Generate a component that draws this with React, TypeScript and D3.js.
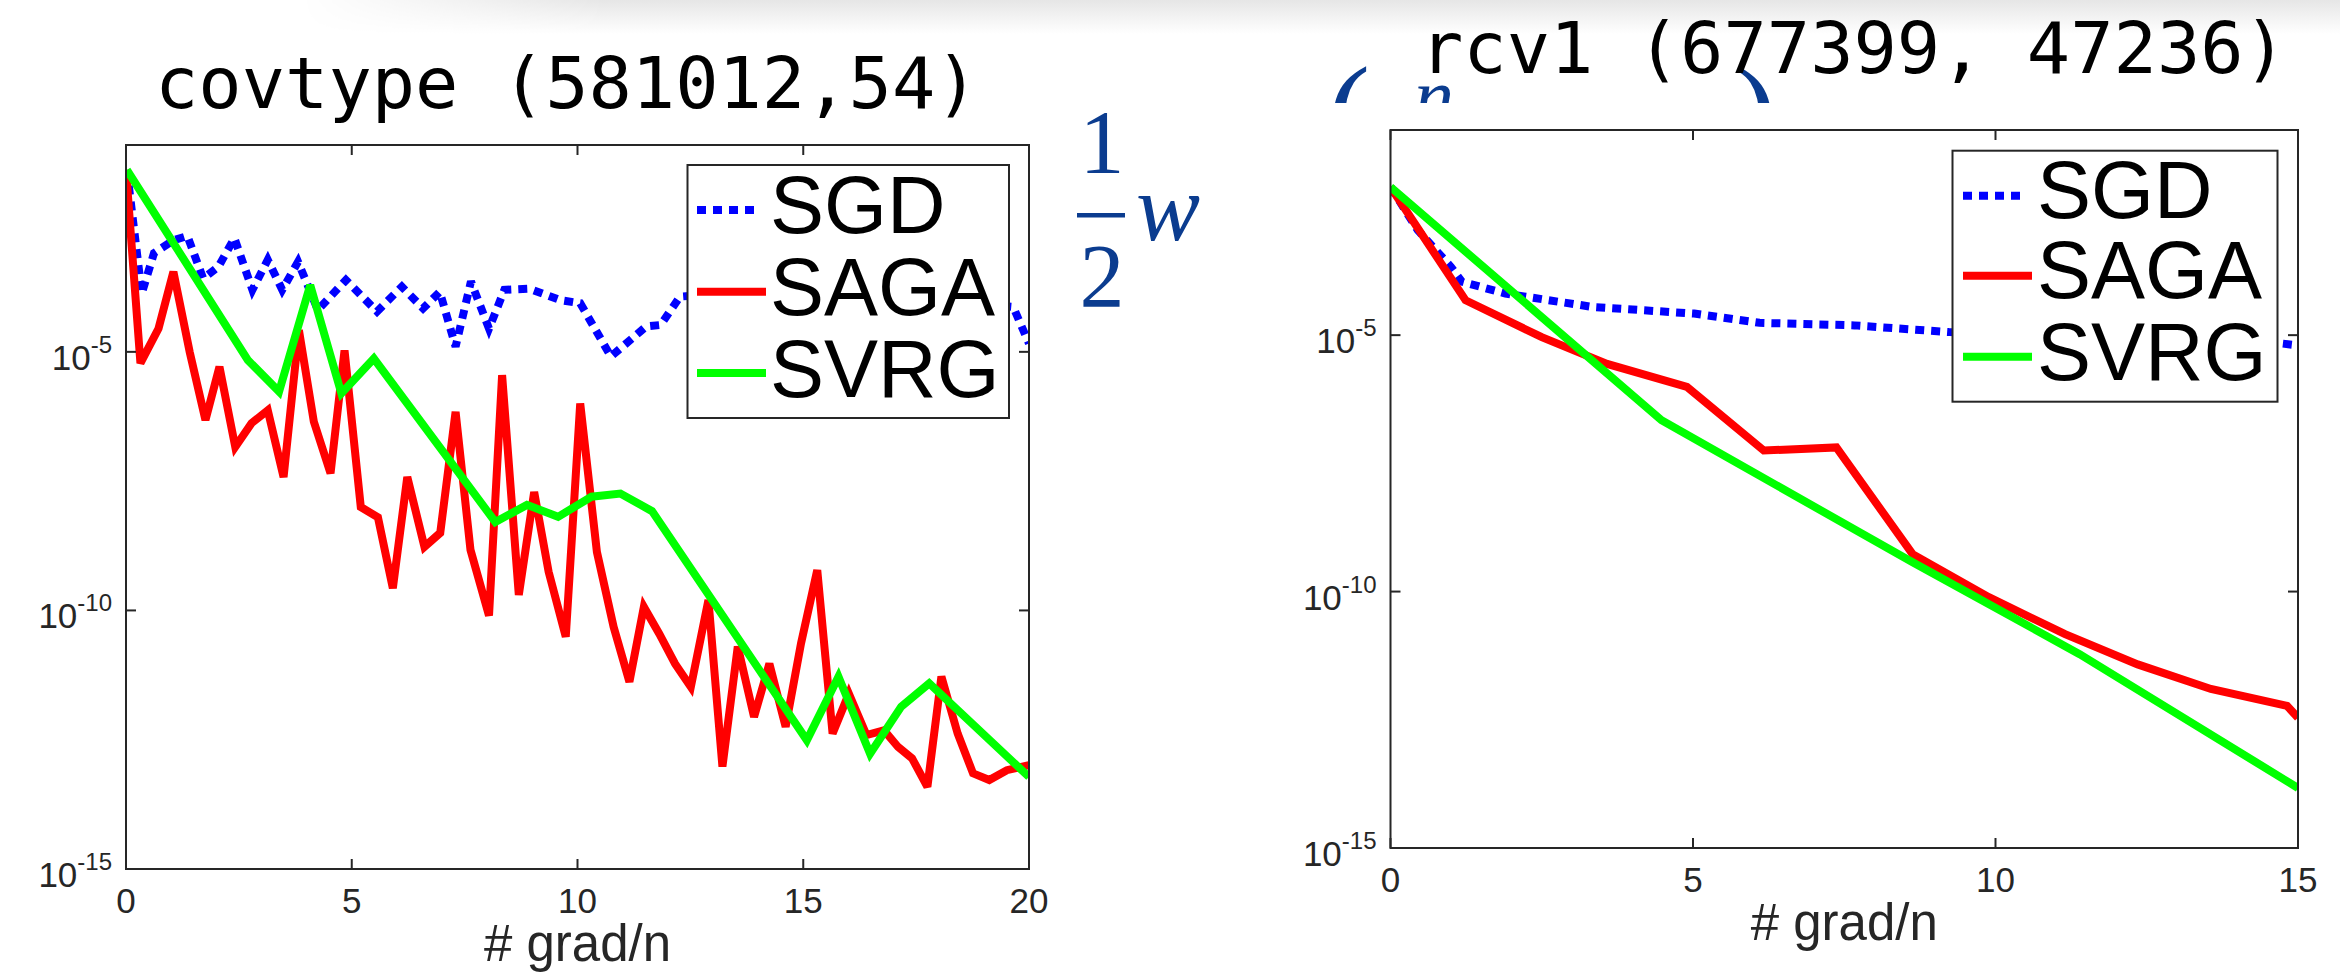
import React from "react";
import * as d3 from "d3";

// ---------- data ----------
const covtypeTitle = "covtype (581012,54)";
const rcv1Title = "rcv1 (677399, 47236)";
const seriesNames = ["SGD", "SAGA", "SVRG"];
const xLabelText = "# grad/n";
const covXTicks = [0, 5, 10, 15, 20];
const rcvXTicks = [0, 5, 10, 15];
const yTickValues = [1e-15, 1e-10, 1e-5];
const yDomain = [1e-15, 1e-1];
const covXDomain = [0, 20];
const rcvXDomain = [0, 15];

// covtype
const covSgdX = [0.02, 0.35, 0.62, 1.06, 1.36, 1.71, 2.05, 2.4, 2.8, 3.14, 3.46, 3.81, 4.25, 4.87, 5.56, 6.11, 6.58, 6.95, 7.3, 7.64, 8.04, 8.38, 8.93, 9.62, 10.06, 10.74, 11.52, 11.84, 12.27, 13.5, 15.0, 16.5, 18.0, 19.65, 20.0];
const covSgdY = [3.3e-2, 1.35e-4, 8.13e-4, 1.45e-3, 1.74e-3, 2.63e-4, 4.47e-4, 1.58e-3, 1.58e-4, 6.03e-4, 1.58e-4, 5.5e-4, 6.46e-5, 2.45e-4, 6.03e-5, 1.82e-4, 6.92e-5, 1.45e-4, 1.26e-5, 2.29e-4, 2.82e-5, 1.58e-4, 1.66e-4, 1.0e-4, 8.71e-5, 8.13e-6, 3.09e-5, 3.31e-5, 1.17e-4, 1.41e-4, 1.12e-4, 1.26e-4, 1.0e-4, 7.41e-5, 1.45e-5];

const covSagaX = [0.0, 0.32, 0.72, 1.05, 1.41, 1.76, 2.07, 2.42, 2.78, 3.14, 3.49, 3.83, 4.16, 4.53, 4.84, 5.2, 5.58, 5.91, 6.23, 6.61, 6.96, 7.3, 7.63, 8.04, 8.33, 8.7, 9.04, 9.36, 9.74, 10.06, 10.43, 10.8, 11.15, 11.47, 11.81, 12.16, 12.51, 12.9, 13.21, 13.55, 13.91, 14.25, 14.61, 14.95, 15.31, 15.65, 16.01, 16.4, 16.79, 17.1, 17.41, 17.75, 18.06, 18.42, 18.76, 19.12, 19.51, 20.0];
const covSagaY = [3.3e-2, 6.03e-6, 2.82e-5, 3.55e-4, 1.0e-5, 4.79e-7, 5.13e-6, 1.45e-7, 4.17e-7, 7.41e-7, 3.8e-8, 2.63e-5, 4.47e-7, 4.47e-8, 1.07e-5, 1.0e-8, 6.31e-9, 2.69e-10, 3.8e-8, 1.7e-9, 3.16e-9, 6.92e-7, 1.48e-9, 7.94e-11, 3.55e-6, 2.0e-10, 1.95e-8, 5.62e-10, 3.09e-11, 1.0e-6, 1.35e-9, 4.79e-11, 4.17e-12, 1.17e-10, 3.55e-11, 9.33e-12, 3.31e-12, 1.58e-10, 9.55e-14, 2.0e-11, 8.71e-13, 9.33e-12, 5.62e-13, 2.29e-11, 6.03e-10, 4.17e-13, 2.45e-12, 3.89e-13, 4.79e-13, 2.29e-13, 1.38e-13, 3.89e-14, 5.25e-12, 4.17e-13, 7.08e-14, 5.25e-14, 8.13e-14, 1.02e-13];

const covSvrgX = [0.02, 2.7, 3.39, 4.08, 4.77, 5.49, 8.18, 8.88, 9.57, 10.31, 10.95, 11.65, 15.08, 15.78, 16.48, 17.17, 17.79, 20.0];
const covSvrgY = [3.3e-2, 6.92e-6, 1.7e-6, 1.95e-4, 1.58e-6, 7.41e-6, 5.13e-9, 1.1e-8, 6.46e-9, 1.58e-8, 1.82e-8, 8.32e-9, 3.09e-13, 5.25e-12, 1.7e-13, 1.38e-12, 3.89e-12, 6.03e-14];

// rcv1
const rcvSgdX = [0, 0.45, 1.0, 1.18, 1.9, 3.34, 5.02, 6.1, 7.67, 9.23, 10.8, 12.3, 13.8, 14.64, 15.0];
const rcvSgdY = [7.76e-3, 1.12e-3, 2.14e-4, 1.1e-4, 6.46e-5, 3.55e-5, 2.63e-5, 1.74e-5, 1.55e-5, 1.15e-5, 1.0e-5, 8.91e-6, 7.94e-6, 7.08e-6, 6.31e-6];

const rcvSagaX = [0, 1.24, 2.5, 3.58, 4.9, 6.17, 7.37, 8.63, 9.89, 11.15, 12.35, 13.56, 14.82, 15.0];
const rcvSagaY = [7.76e-3, 4.79e-5, 9.12e-6, 2.75e-6, 9.77e-7, 5.62e-8, 6.46e-8, 5.37e-10, 7.76e-11, 1.48e-11, 3.8e-12, 1.26e-12, 5.89e-13, 3.47e-13];

const rcvSvrgX = [0, 4.48, 8.63, 11.39, 15.0];
const rcvSvrgY = [7.76e-3, 2.19e-7, 3.72e-10, 6.03e-12, 1.48e-14];

// ---------- layout & style ----------
const W = 2340;
const H = 974;
const AXIS_COLOR = "#262626";
const SANS = "'Liberation Sans', Arial, Helvetica, sans-serif";
const MONO = "'DejaVu Sans Mono', monospace";
const SERIF = "'Liberation Serif', 'Times New Roman', serif";
const MATH_BLUE = "#0b3c8f";

const seriesStyles = [
  { color: "#0000ff", dash: "9 7" },
  { color: "#ff0000", dash: null },
  { color: "#00ff00", dash: null },
];

type PanelCfg = {
  id: string;
  left: number;
  right: number;
  top: number;
  bottom: number;
  xDomain: number[];
  xTicks: number[];
  title: string;
  titleX: number;
  titleY: number;
  legend: { x: number; y: number; w: number; h: number; rows: number[]; baselines: number[]; s0: number; s1: number; tx: number };
  series: { xs: number[]; ys: number[] }[];
};

const panels: PanelCfg[] = [
  {
    id: "cov",
    left: 126,
    right: 1029,
    top: 145,
    bottom: 869,
    xDomain: covXDomain,
    xTicks: covXTicks,
    title: covtypeTitle,
    titleX: 155,
    titleY: 108,
    legend: { x: 687.5, y: 165, w: 321.5, h: 253, rows: [210, 291.7, 373], baselines: [233, 315, 397], s0: 697, s1: 766, tx: 770 },
    series: [
      { xs: covSgdX, ys: covSgdY },
      { xs: covSagaX, ys: covSagaY },
      { xs: covSvrgX, ys: covSvrgY },
    ],
  },
  {
    id: "rcv",
    left: 1390.5,
    right: 2298,
    top: 130,
    bottom: 848,
    xDomain: rcvXDomain,
    xTicks: rcvXTicks,
    title: rcv1Title,
    titleX: 1420,
    titleY: 73,
    legend: { x: 1952.5, y: 150.7, w: 325, h: 251, rows: [195.7, 275.7, 356.7], baselines: [218, 298, 380], s0: 1963, s1: 2032, tx: 2037 },
    series: [
      { xs: rcvSgdX, ys: rcvSgdY },
      { xs: rcvSagaX, ys: rcvSagaY },
      { xs: rcvSvrgX, ys: rcvSvrgY },
    ],
  },
];

function Panel({ cfg }: { cfg: PanelCfg }) {
  const x = d3.scaleLinear().domain(cfg.xDomain).range([cfg.left, cfg.right]);
  const y = d3.scaleLog().domain(yDomain).range([cfg.bottom, cfg.top]);
  const line = d3
    .line<[number, number]>()
    .x((d) => x(d[0]))
    .y((d) => y(d[1]));
  const tickLen = 10;
  const lg = cfg.legend;
  return (
    <g>
      <defs>
        <clipPath id={`clip-${cfg.id}`}>
          <rect x={cfg.left} y={cfg.top} width={cfg.right - cfg.left} height={cfg.bottom - cfg.top} />
        </clipPath>
      </defs>
      <text x={cfg.titleX} y={cfg.titleY} fontFamily={MONO} fontSize={72} fill="#000">
        {cfg.title}
      </text>
      <g clipPath={`url(#clip-${cfg.id})`}>
        {cfg.series.map((s, i) => {
          const pts: [number, number][] = s.xs.map((v, k) => [v, s.ys[k]]);
          return (
            <path
              key={i}
              d={line(pts) || ""}
              fill="none"
              stroke={seriesStyles[i].color}
              strokeWidth={8}
              strokeDasharray={seriesStyles[i].dash || undefined}
              strokeLinejoin="miter"
              strokeMiterlimit={3}
            />
          );
        })}
      </g>
      {/* box */}
      <rect
        x={cfg.left}
        y={cfg.top}
        width={cfg.right - cfg.left}
        height={cfg.bottom - cfg.top}
        fill="none"
        stroke={AXIS_COLOR}
        strokeWidth={2}
      />
      {/* x ticks */}
      {cfg.xTicks.map((t) => (
        <g key={`xt${t}`}>
          <line x1={x(t)} x2={x(t)} y1={cfg.bottom} y2={cfg.bottom - tickLen} stroke={AXIS_COLOR} strokeWidth={2} />
          <line x1={x(t)} x2={x(t)} y1={cfg.top} y2={cfg.top + tickLen} stroke={AXIS_COLOR} strokeWidth={2} />
          <text x={x(t)} y={cfg.bottom + 44} textAnchor="middle" fontFamily={SANS} fontSize={35} fill={AXIS_COLOR}>
            {t}
          </text>
        </g>
      ))}
      {/* y ticks */}
      {yTickValues.map((t) => (
        <g key={`yt${t}`}>
          <line x1={cfg.left} x2={cfg.left + tickLen} y1={y(t)} y2={y(t)} stroke={AXIS_COLOR} strokeWidth={2} />
          <line x1={cfg.right} x2={cfg.right - tickLen} y1={y(t)} y2={y(t)} stroke={AXIS_COLOR} strokeWidth={2} />
          <text x={cfg.left - 14} y={y(t) + 18} textAnchor="end" fontFamily={SANS} fontSize={35} fill={AXIS_COLOR}>
            <tspan>10</tspan>
            <tspan dy={-17} fontSize={24}>
              {String(Math.round(Math.log10(t)))}
            </tspan>
          </text>
        </g>
      ))}
      <text
        x={(cfg.left + cfg.right) / 2}
        y={cfg.bottom + 92}
        textAnchor="middle"
        fontFamily={SANS}
        fontSize={51}
        fill={AXIS_COLOR}
      >
        {xLabelText}
      </text>
      {/* legend */}
      <rect x={lg.x} y={lg.y} width={lg.w} height={lg.h} fill="#fff" stroke={AXIS_COLOR} strokeWidth={2} />
      {seriesNames.map((name, i) => (
        <g key={name}>
          <line
            x1={lg.s0}
            x2={i === 0 ? lg.s1 - 8 : lg.s1}
            y1={lg.rows[i]}
            y2={lg.rows[i]}
            stroke={seriesStyles[i].color}
            strokeWidth={8}
            strokeDasharray={seriesStyles[i].dash || undefined}
          />
          <text x={lg.tx} y={lg.baselines[i]} fontFamily={SANS} fontSize={81} fill="#000">
            {name}
          </text>
        </g>
      ))}
    </g>
  );
}

export default function App() {
  return (
    <svg width={W} height={H} viewBox={`0 0 ${W} ${H}`} style={{ display: "block", position: "absolute", left: 0, top: 0 }}>
      <defs>
        <linearGradient id="topShade" x1="0" y1="0" x2="0" y2="1">
          <stop offset="0" stopColor="#e6e6e6" />
          <stop offset="1" stopColor="#ffffff" />
        </linearGradient>
        <linearGradient id="fadeX" x1="0" y1="0" x2="1" y2="0">
          <stop offset="0" stopColor="#fff" stopOpacity="0" />
          <stop offset="0.15" stopColor="#fff" stopOpacity="1" />
          <stop offset="1" stopColor="#fff" stopOpacity="1" />
        </linearGradient>
        <mask id="fadeMask">
          <rect x={300} y={0} width={W - 300} height={34} fill="url(#fadeX)" />
        </mask>
        <clipPath id="mathTop">
          <rect x={1290} y={0} width={520} height={103} />
        </clipPath>
      </defs>
      <rect x={0} y={0} width={W} height={H} fill="#fff" />
      <rect x={300} y={0} width={W - 300} height={34} fill="url(#topShade)" mask="url(#fadeMask)" />

      {/* background slide math fragments */}
      <g fill={MATH_BLUE} fontFamily={SERIF}>
        <text x={1102} y={173} fontSize={90} textAnchor="middle">1</text>
        <rect x={1077} y={213} width={48} height={4.5} />
        <text x={1102} y={307} fontSize={90} textAnchor="middle">2</text>
        <text x={1136} y={240} fontSize={96} fontStyle="italic">w</text>
        <g clipPath="url(#mathTop)">
          <text x={1327} y={156} fontSize={130}>(</text>
          <text x={1414} y={123} fontSize={80} fontStyle="italic">n</text>
          <text x={1734} y={156} fontSize={130}>)</text>
        </g>
      </g>

      {panels.map((p) => (
        <Panel key={p.id} cfg={p} />
      ))}
    </svg>
  );
}
